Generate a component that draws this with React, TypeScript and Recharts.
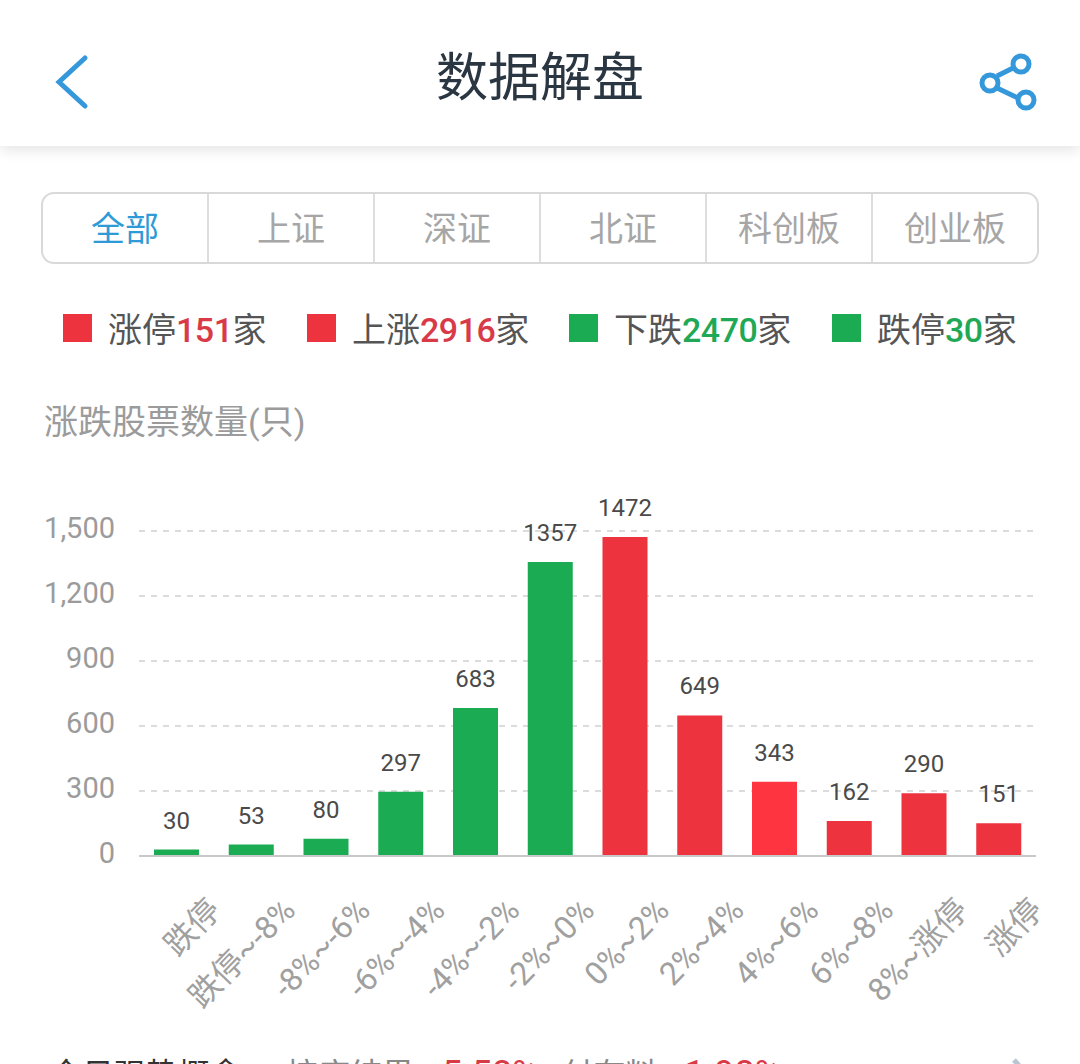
import React from 'react';
import { BarChart, Bar, Cell, XAxis, YAxis, CartesianGrid, LabelList } from 'recharts';

const categories = ['跌停', '跌停~-8%', '-8%~-6%', '-6%~-4%', '-4%~-2%', '-2%~0%', '0%~2%', '2%~4%', '4%~6%', '6%~8%', '8%~涨停', '涨停'];
const stockCounts = [30, 53, 80, 297, 683, 1357, 1472, 649, 343, 162, 290, 151];
const yTicks = [0, 300, 600, 900, 1200, 1500];
const tabs = ['全部', '上证', '深证', '北证', '科创板', '创业板'];
const legendNames = ['涨停', '上涨', '下跌', '跌停'];
const legendCounts = [151, 2916, 2470, 30];

const RED = '#ec333e';
const BRIGHT_RED = '#fe3540';
const GREEN = '#1bab52';
const FONT = 'Roboto, "Noto Sans CJK SC", sans-serif';

const chartData = categories.map((name, i) => ({ name, count: stockCounts[i] }));

const barColor = (i: number) => {
    if (i < 6) return GREEN;
    return stockCounts[i] === 343 ? BRIGHT_RED : RED;
};

const XTick = ({ x, y, payload }: any) => (
    <text
        x={x + 46}
        y={y + 48}
        textAnchor="end"
        fontSize={32}
        fontFamily={FONT}
        fill="#a0a0a0"
        transform={`rotate(-46 ${x + 46} ${y + 48})`}
    >
        {payload.value}
    </text>
);

const YTick = ({ x, y, payload }: any) => (
    <text x={x} y={y + 7} textAnchor="end" fontSize={29} fontFamily={FONT} fill="#9b9b9b">
        {payload.value.toLocaleString('en-US')}
    </text>
);

const abs = (left: number, top: number): React.CSSProperties => ({ position: 'absolute', left, top, whiteSpace: 'nowrap' });

const Header = () => (
    <div style={{ position: 'absolute', left: 0, top: 0, width: 1080, height: 146, background: '#fff', boxShadow: '0 3px 14px rgba(0,0,0,0.12)' }}>
        <svg width={1080} height={146} style={abs(0, 0)}>
            <polyline points="85,58 59,82 85,106" fill="none" stroke="#3498db" strokeWidth={5} strokeLinecap="round" />
            <g fill="none" stroke="#3498db" strokeWidth={5}>
                <line x1={997} y1={76} x2={1013} y2={68} />
                <line x1={997} y1={88} x2={1018} y2={98} />
                <circle cx={1021} cy={64} r={8} />
                <circle cx={990} cy={83} r={8} />
                <circle cx={1026} cy={100} r={8} />
            </g>
        </svg>
        <div style={{ ...abs(0, 45), width: 1080, textAlign: 'center', fontSize: 52, lineHeight: '68px', color: '#2a3642', fontFamily: FONT }}>
            数据解盘
        </div>
    </div>
);

const Tabs = () => (
    <div style={{ ...abs(41, 192), width: 998, height: 72, boxSizing: 'border-box', border: '2px solid #d9d9d9', borderRadius: 13, display: 'flex' }}>
        {tabs.map((tab, i) => (
            <div
                key={tab}
                style={{
                    flex: 1,
                    boxSizing: 'border-box',
                    textAlign: 'center',
                    fontSize: 34,
                    lineHeight: '70px',
                    fontFamily: FONT,
                    color: i === 0 ? '#2f9bd6' : '#a6a6a6',
                    borderLeft: i === 0 ? 'none' : '2px solid #dddddd',
                }}
            >
                {tab}
            </div>
        ))}
    </div>
);

const legendLeft = [63, 307, 569, 832];

const Legend = () => (
    <>
        {legendNames.map((name, i) => {
            const color = i < 2 ? RED : GREEN;
            return (
                <React.Fragment key={i}>
                    <div style={{ ...abs(legendLeft[i], 314), width: 29, height: 28, background: color }} />
                    <div style={{ ...abs(legendLeft[i] + 45, 306), fontSize: 34, lineHeight: '48px', fontFamily: FONT, color: '#555' }}>
                        {name}
                        <span style={{ color: i < 2 ? '#d93a48' : '#1fa855', fontWeight: 500, letterSpacing: -0.5 }}>{legendCounts[i]}</span>家
                    </div>
                </React.Fragment>
            );
        })}
    </>
);

const Footer = () => (
    <>
        <div style={{ ...abs(50, 1052), fontSize: 32, lineHeight: '44px', fontFamily: FONT, color: '#333' }}>
            全日强势概念
            <span style={{ color: '#888', marginLeft: 44 }}>按序结果</span>
            <span style={{ color: '#d93a48', marginLeft: 28, fontSize: 36 }}>5.58%</span>
            <span style={{ color: '#888', marginLeft: 23 }}>付有料</span>
            <span style={{ color: '#d93a48', marginLeft: 27, fontSize: 36 }}>1.98%</span>
        </div>
        <svg width={40} height={20} style={abs(1000, 1044)}>
            <polyline points="14,16 30,34" fill="none" stroke="#b8c6d3" strokeWidth={5} />
        </svg>
    </>
);

export default function App() {
    return (
        <div style={{ position: 'absolute', left: 0, top: 0, width: 1080, height: 1064, overflow: 'hidden', background: '#fff' }}>
            <div style={abs(0, 0)}>
                <BarChart width={1080} height={1064} data={chartData} margin={{ top: 531, right: 44, bottom: 0, left: 0 }}>
                    <CartesianGrid horizontal vertical={false} stroke="#dcdcdc" strokeWidth={2} strokeDasharray="6 6" />
                    <XAxis
                        dataKey="name"
                        interval={0}
                        height={208}
                        tick={<XTick />}
                        tickLine={false}
                        axisLine={{ stroke: '#c9c9c9', strokeWidth: 2 }}
                    />
                    <YAxis
                        type="number"
                        domain={[0, 1500]}
                        ticks={yTicks}
                        width={139}
                        tick={<YTick />}
                        tickLine={false}
                        axisLine={false}
                        tickMargin={18}
                    />
                    <Bar dataKey="count" barSize={45} isAnimationActive={false}>
                        {chartData.map((_, i) => (
                            <Cell key={i} fill={barColor(i)} />
                        ))}
                        <LabelList dataKey="count" position="top" offset={21} fontSize={24} fontFamily={FONT} fill="#4a4a4a" />
                    </Bar>
                </BarChart>
            </div>
            <Header />
            <Tabs />
            <Legend />
            <div style={{ ...abs(44, 398), fontSize: 34, lineHeight: '48px', fontFamily: FONT, color: '#9b9b9b' }}>涨跌股票数量(只)</div>
            <Footer />
        </div>
    );
}
